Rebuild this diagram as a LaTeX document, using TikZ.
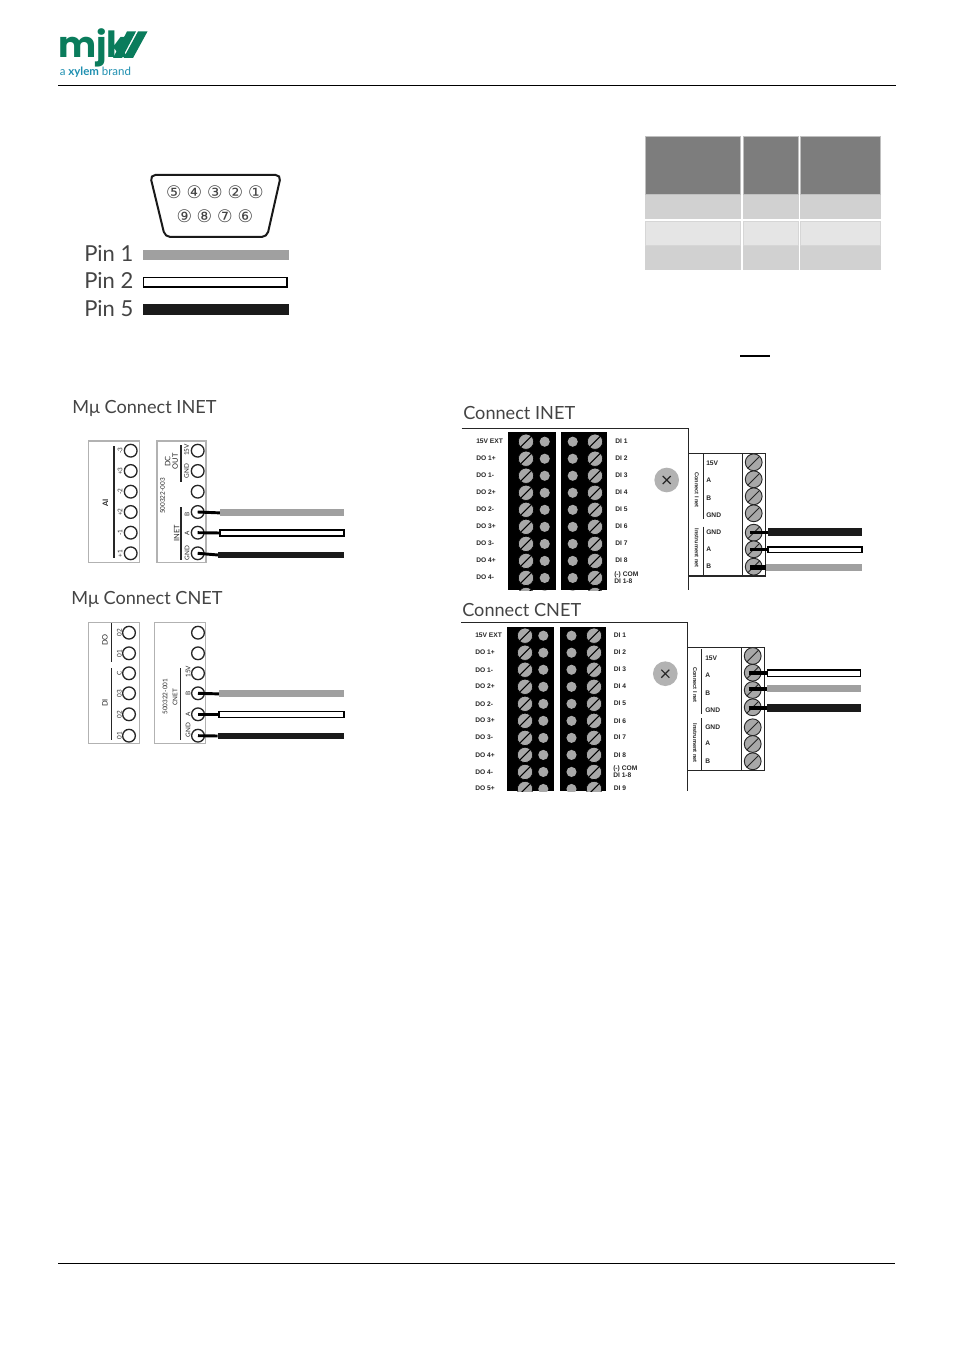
\documentclass[tikz,border=0pt]{standalone}
\usepackage{fontspec}
\setmainfont{Lato}
\newfontfamily\logofont{Poppins}[UprightFont=* Bold]
\newfontfamily\tinyfont{Liberation Sans}[UprightFont=* Bold]
\newfontfamily\circfont{DejaVu Sans}
\definecolor{txt}{HTML}{444444}
\definecolor{mjkgreen}{HTML}{0A7C5C}
\definecolor{xylem}{HTML}{1E8FB0}
\definecolor{wiregray}{HTML}{A0A0A0}
\definecolor{wireblack}{HTML}{1A1A1A}
\definecolor{screwgray}{HTML}{A8A8A8}
\tikzset{
  rulefull/.style={draw=black,line width=0.75pt},
  title/.style={anchor=base west,inner sep=0,text=txt,font=\fontsize{13.6pt}{15pt}\selectfont},
  pinlabel/.style={anchor=base west,inner sep=0,text=txt,font=\fontsize{16.5pt}{18pt}\selectfont},
  pincirc/.style={inner sep=0,text=txt,font=\circfont\fontsize{13pt}{14pt}\selectfont},
  hdr/.style={fill=black!51,draw=black!25,line width=0.6pt},
  rowa/.style={fill=black!18},
  rowb/.style={fill=black!10,draw=black!16,line width=0.5pt},
  panel/.style={draw=black!30,line width=0.8pt},
  term/.style={circle,draw=black!85,line width=1pt,fill=white,inner sep=0,minimum size=9.5bp},
  plab/.style={inner sep=0,rotate=90,text=black!85,font=\fontsize{4.8pt}{5pt}\selectfont},
  plabb/.style={inner sep=0,rotate=90,align=center,text=black!85,font=\fontsize{5.6pt}{5.6pt}\selectfont},
  lab/.style={inner sep=0,anchor=west,text=black!85,align=left,font=\tinyfont\fontsize{5pt}{5pt}\selectfont},
  rlab/.style={inner sep=0,rotate=-90,text=black!85,font=\tinyfont\fontsize{4.2pt}{5pt}\selectfont},
  line/.style={draw=black!85,line width=0.8pt},
  screw/.style={circle,fill=screwgray,draw=black,line width=0.5pt,inner sep=0,minimum size=11.5pt,
     path picture={\draw[black,line width=0.8pt] ([shift={(-.6,.6)}]path picture bounding box.south west) -- ([shift={(-.6,.6)}]path picture bounding box.north east);}},
  bigscrew/.style={circle,fill=screwgray,draw=black!85,line width=0.7pt,inner sep=0,minimum size=12.6pt,
     path picture={\draw[black!85,line width=0.7pt] (path picture bounding box.south west) -- (path picture bounding box.north east);}},
  dot/.style={circle,fill=screwgray,inner sep=0,minimum size=7.6pt},
  xcirc/.style={circle,fill=black!30,inner sep=0,minimum size=18.5pt},
  stub/.style={draw=black,line width=2.2pt},
  wgray/.style={draw=wiregray,line width=5.2pt},
  wblack/.style={draw=wireblack,line width=5.2pt},
  wwhite/.style={draw=black,fill=white,line width=0.8pt},
}
% wide white wire: #1 left node/coordinate, #2 right
\newcommand{\whitewire}[5]{\draw[wwhite] (#1,#3) rectangle (#2,#4);}
\begin{document}
\begin{tikzpicture}[x=0.75pt,y=-0.75pt]
\useasboundingbox (0,0) rectangle (954,1351);
% ---- header / footer
\coordinate (ht1) at (58,86); \coordinate (ht2) at (896,86);
\coordinate (hb1) at (58,1263); \coordinate (hb2) at (895,1263);
\draw[rulefull] (ht1) -- (ht2);
\draw[rulefull] (hb1) -- (hb2);
\node[anchor=base west,inner sep=0,text=mjkgreen,font=\logofont\fontsize{27pt}{28pt}\selectfont] (logo) at (58,58) {mjk};
\fill[mjkgreen] (127,31.5) -- (136,31.5) -- (122,58) -- (113,58) -- cycle;
\fill[mjkgreen] (138,31.5) -- (147.5,31.5) -- (133,58) -- (123.5,58) -- cycle;
\node[anchor=base west,inner sep=0,text=xylem,font=\fontsize{8.6pt}{9pt}\selectfont] (brand) at (59.5,76) {a \textbf{xylem} brand};
% ---- D-sub connector
\draw[black!90,line width=1.5pt,rounded corners=4pt,fill=white] (150,175) -- (281,175) -- (267,237) -- (165,237) -- cycle;
\foreach \n/\x/\y/\c in {p5/174/192/⑤,p4/194.5/192/④,p3/215/192/③,p2/235.5/192/②,p1/256/192/①,
   p9/184.5/216/⑨,p8/204.5/216/⑧,p7/225/216/⑦,p6/245.5/216/⑥}
  \node[pincirc] (\n) at (\x,\y) {\c};
\node[pinlabel] (pin1) at (84,262) {Pin 1};
\node[pinlabel] (pin2) at (84,289) {Pin 2};
\node[pinlabel] (pin5) at (84,317) {Pin 5};
\fill[wiregray] (143,250) rectangle (289,260);
\draw[black,line width=1.2pt,fill=white] (143.5,277.5) rectangle (287,287);
\fill[wireblack] (143,304) rectangle (289,315);
% ---- table
\foreach \xa/\xb in {645/741,743/799,800/881}{
  \path[hdr] (\xa+.5,136.5) rectangle (\xb-.5,194);
  \path[rowa] (\xa,195) rectangle (\xb,219);
  \path[rowb] (\xa+.5,221) rectangle (\xb-.5,245);
  \path[rowa] (\xa,246) rectangle (\xb,270);
}
\fill[black] (740,355) rectangle (770,356.8);
% ---- Mu Connect INET
\node[title] (t1) at (72,413) {Mμ Connect INET};
\path[panel] (88.5,441) rectangle (139.5,562.5);
\path[panel] (157,441) rectangle (206,562.5);
\draw[line] (114,446) -- (114,558);
\foreach \i/\y/\l in {a/450.7/-3,b/471/+3,c/491.7/-2,d/512/+2,e/532.7/-1,f/553.3/+1}{
  \node[term] (ai\i) at (130.7,\y) {};
  \node[plab] at (120,\y) {\l};
}
\node[plabb] (ailab) at (105.5,502.5) {\textbf{AI}};
\foreach \i/\y in {a/450.7,b/471,c/491.7,d/512,e/532.7,f/553.3}
  \node[term] (n\i) at (197.7,\y) {};
\node[plab] at (186.7,450) {15V};
\node[plab] at (186.7,471) {GND};
\node[plabb] at (171.5,461.5) {DC\\OUT};
\draw[line] (181,445) -- (181,482);
\node[plab] at (162.7,496) {500322-003};
\node[plab] at (187,514) {B};
\node[plab] at (187,533) {A};
\node[plab] at (187,553) {GND};
\node[plabb] at (176.7,533) {INET};
\draw[line] (181,507) -- (181,560);
\coordinate (ie1) at (220,512.9); \coordinate (ie2) at (220,533); \coordinate (ie3) at (218,555);
\draw[stub] (nd.center) -- (ie1);
\draw[stub] (ne.center) -- (ie2);
\draw[stub] (nf.center) -- (ie3);
\coordinate (ie1b) at (344,512.9); \coordinate (ie3b) at (344,555);
\draw[wgray] (ie1) -- (ie1b);
\draw[wwhite] (220,530) rectangle (344,536);
\draw[wblack] (ie3) -- (ie3b);
% ---- Mu Connect CNET
\node[title] (t2) at (71,604) {Mμ Connect CNET};
\path[panel] (88.5,622.5) rectangle (139.5,743.5);
\path[panel] (154.7,622.5) rectangle (205.3,743.5);
\draw[line] (111.7,623) -- (111.7,662);
\draw[line] (111.7,668) -- (111.7,740);
\foreach \i/\y/\l in {a/632.7/02,b/653.3/01,c/673.3/C,d/693.3/03,e/714.3/02,f/735.7/01}{
  \node[term] (do\i) at (129,\y) {};
  \node[plab] at (119.3,\y) {\l};
  \node[term] (c\i) at (198,\y) {};
}
\node[plabb] at (105,640) {DO};
\node[plabb] at (105,703) {DI};
\node[plab] at (188,671.7) {15V};
\node[plab] at (188,693) {B};
\node[plab] at (188,714) {A};
\node[plab] at (188,730) {GND};
\node[plab] at (165,696.7) {500322-001};
\node[plab] at (175,697) {CNET};
\draw[line] (180.7,668) -- (180.7,740);
\coordinate (ce1) at (219,693.9); \coordinate (ce2) at (219,714.3); \coordinate (ce3) at (217.7,736);
\draw[stub] (cd.center) -- (ce1);
\draw[stub] (ce.center) -- (ce2);
\draw[stub] (cf.center) -- (ce3);
\coordinate (ce1b) at (344,693.9); \coordinate (ce3b) at (344,736);
\draw[wgray] (ce1) -- (ce1b);
\draw[wwhite] (219,711.3) rectangle (344,717.3);
\draw[wblack] (ce3) -- (ce3b);
% ---- Connect INET
\node[title] (t3) at (463,419) {Connect INET};
\draw[line] (461.7,428.5) -- (688.5,428.5) -- (688.5,590);
\fill[black] (508.3,432.3) rectangle (555.7,590);
\fill[black] (560.7,432.3) rectangle (607.3,590);
\begin{scope}
\clip (500,430) rectangle (620,590);
\foreach \k in {0,...,9}{
  \pgfmathsetmacro{\yy}{441.7+17.03*\k}
  \node[screw] at (526,\yy) {};
  \node[dot] at (544.7,\yy) {};
  \node[dot] at (572.7,\yy) {};
  \node[screw] at (595,\yy) {};
}
\end{scope}
\foreach \y/\l in {441.7/15V EXT,458.3/DO 1+,475.3/DO 1-,492.3/DO 2+,509.3/DO 2-,526.3/DO 3+,543.7/DO 3-,560.7/DO 4+,577.7/DO 4-}
  \node[lab] at (476,\y) {\l};
\foreach \y/\l in {441.7/DI 1,458.3/DI 2,475.3/DI 3,492.3/DI 4,509.3/DI 5,526.3/DI 6,543.7/DI 7,560.7/DI 8}
  \node[lab] at (615,\y) {\l};
\node[lab] at (614,577.7) {(-) COM\\DI 1-8};
\node[xcirc] (x1) at (666.7,480) {};
\draw[black!85,line width=0.9pt] (x1.center) +(-4,-4) -- +(4,4) (x1.center) +(-4,4) -- +(4,-4);
\draw[line] (688.5,453.3) rectangle (765.7,576);
\draw[line] (742.3,453.3) -- (742.3,576);
\draw[line] (703.3,453.3) -- (703.3,519);
\draw[line] (703.3,526.7) -- (703.3,576);
\foreach \i/\y/\l in {a/462.3/15V,b/479.3/A,c/496.3/B,d/513.3/GND,e/532.7/GND,f/549.3/A,g/566.7/B}
  \node[bigscrew] (ri\i) at (753.7,\y) {};
\foreach \y/\l in {463.7/15V,480.7/A,498/B,515.3/GND,532.3/GND,549/A,566/B}
  \node[lab] at (706,\y) {\l};
\node[rlab] at (696.7,490) {Connect I net};
\node[rlab] at (696.7,548) {Instrument net};
\coordinate (rw1) at (768,532.3); \coordinate (rw2) at (768,549.7); \coordinate (rw3) at (766,567.3);
\coordinate (rs1) at (750,532.3); \coordinate (rs2) at (750,549.7); \coordinate (rs3) at (750,567.3);
\coordinate (rw1b) at (862,532.3); \coordinate (rw3b) at (862,567.3);
\draw[stub] (rs1) -- (rw1);
\draw[stub] (rs2) -- (rw2);
\draw[black,line width=3.4pt] (rs3) -- (rw3);
\draw[wblack,line width=5.8pt] (rw1) -- (rw1b);
\draw[wwhite] (768,547) rectangle (862,552.7);
\draw[wgray,line width=5.6pt] (rw3) -- (rw3b);
% ---- Connect CNET
\node[title] (t4) at (462,616) {Connect CNET};
\draw[line] (461,622.8) -- (687.7,622.8) -- (687.7,791);
\fill[black] (507.3,626.7) rectangle (554.3,791);
\fill[black] (559.7,626.7) rectangle (606,791);
\begin{scope}
\clip (500,625) rectangle (620,791);
\foreach \k in {0,...,9}{
  \pgfmathsetmacro{\yy}{635.7+17.03*\k}
  \node[screw] at (525,\yy) {};
  \node[dot] at (543.3,\yy) {};
  \node[dot] at (571.5,\yy) {};
  \node[screw] at (594,\yy) {};
}
\end{scope}
\foreach \y/\l in {635.7/15V EXT,652.3/DO 1+,669.7/DO 1-,686.7/DO 2+,703.7/DO 2-,720.7/DO 3+,737.7/DO 3-,754.7/DO 4+,771.7/DO 4-,788.2/DO 5+}
  \node[lab] at (475,\y) {\l};
\foreach \y/\l in {635.7/DI 1,652.3/DI 2,669.7/DI 3,686.7/DI 4,703.7/DI 5,720.7/DI 6,737.7/DI 7,754.7/DI 8,788.2/DI 9}
  \node[lab] at (613.5,\y) {\l};
\node[lab] at (613,771.7) {(-) COM\\DI 1-8};
\node[xcirc] (x2) at (665.3,673.7) {};
\draw[black!85,line width=0.9pt] (x2.center) +(-4,-4) -- +(4,4) (x2.center) +(-4,4) -- +(4,-4);
\draw[line] (687.7,647.3) -- (764.3,647.3) -- (764.3,770.7) -- (687.7,770.7);
\draw[line] (741.3,647.3) -- (741.3,770.7);
\draw[line] (701.7,649) -- (701.7,714);
\draw[line] (701.7,718) -- (701.7,770.7);
\foreach \i/\y in {a/656,b/672.7,c/690,d/707.3,e/727.3,f/744,g/761.3}
  \node[bigscrew] (rc\i) at (752.7,\y) {};
\foreach \y/\l in {658.3/15V,675.7/A,693.3/B,710/GND,727/GND,743.7/A,761/B}
  \node[lab] at (705,\y) {\l};
\node[rlab] at (695,685) {Connect I net};
\node[rlab] at (695,743) {Instrument net};
\coordinate (sw1) at (767.3,673); \coordinate (sw2) at (767.3,688.7); \coordinate (sw3) at (767.3,708);
\coordinate (sa1) at (748.7,673); \coordinate (sa2) at (748.7,688.7); \coordinate (sa3) at (748.7,708);
\coordinate (sw2b) at (861,688.7); \coordinate (sw3b) at (861,708);
\draw[black,line width=3.2pt] (sa1) -- (sw1);
\draw[black,line width=3.2pt] (sa2) -- (sw2);
\draw[black,line width=3.2pt] (sa3) -- (sw3);
\draw[wwhite] (767.3,670) rectangle (860.7,676.3);
\draw[wgray,line width=5.6pt] (sw2) -- (sw2b);
\draw[wblack,line width=5.4pt] (sw3) -- (sw3b);
\end{tikzpicture}
\end{document}
